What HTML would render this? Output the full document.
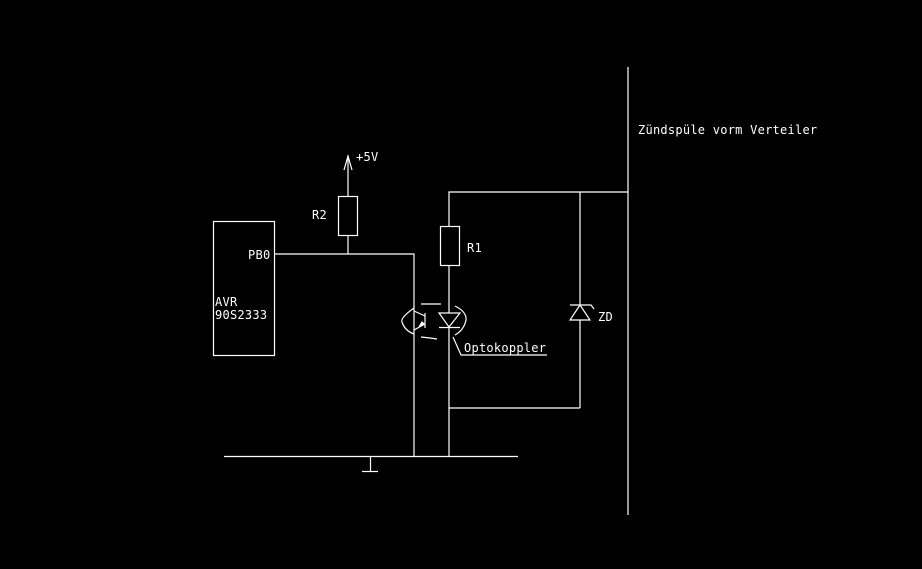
<!DOCTYPE html>
<html><head><meta charset="utf-8"><style>
html,body{margin:0;padding:0;background:#000;width:922px;height:569px;overflow:hidden}
svg{display:block}
text{font-family:"DejaVu Sans Mono","Liberation Mono",monospace;fill:#fff;font-size:12px;letter-spacing:0.25px}
</style></head><body>
<svg width="922" height="569" viewBox="0 0 922 569" xmlns="http://www.w3.org/2000/svg">
<g stroke="#fff" stroke-width="1.2" fill="none">
<rect x="213.5" y="221.5" width="61" height="134"/>
<polyline points="274,254 414,254 414,457"/>
<line x1="348" y1="254" x2="348" y2="235"/>
<rect x="338.5" y="196.5" width="19" height="39"/>
<line x1="348" y1="196" x2="348" y2="156"/>
<polyline points="344,170 348,156 352,170"/>
<polyline points="628,192 449,192 449,457"/>
<rect x="440.5" y="226.5" width="19" height="39" fill="#000"/>
<line x1="580" y1="192" x2="580" y2="408"/>
<polyline points="449,408 580,408"/>
<polygon points="570,320 590,320 580,305" fill="#000"/>
<polyline points="570,305 591,305 594,309"/>
<line x1="628" y1="67" x2="628" y2="515"/>
<line x1="224" y1="456.5" x2="518" y2="456.5"/>
<line x1="370.5" y1="456" x2="370.5" y2="471"/>
<line x1="362" y1="471.5" x2="378" y2="471.5"/>
<line x1="425" y1="313" x2="425" y2="328"/>
<line x1="414" y1="311" x2="425" y2="316"/>
<line x1="425" y1="324" x2="414" y2="330"/>
<polygon points="419,327 424,324 422,322" fill="#fff"/>
<line x1="421" y1="304" x2="441" y2="304"/>
<polyline points="421,337 430,338 437,339"/>
<path d="M414,308 Q400,318 402,322 Q405,331 414,334"/>
<polygon points="439,313 460,313 449,327" fill="#000"/>
<line x1="439" y1="327.5" x2="460" y2="327.5"/>
<path d="M455,306 Q467,312 466,320 Q464,330 455,335"/>
<polyline points="453,337 461,355 547,355"/>
</g>
<text x="248" y="259">PB0</text>
<text x="215" y="306">AVR</text>
<text x="215" y="319">90S2333</text>
<text x="312" y="219">R2</text>
<text x="356" y="161">+5V</text>
<text x="467" y="252">R1</text>
<text x="598" y="321">ZD</text>
<text x="464" y="352">Optokoppler</text>
<text x="638" y="134">Zündspüle vorm Verteiler</text>
</svg>
</body></html>
